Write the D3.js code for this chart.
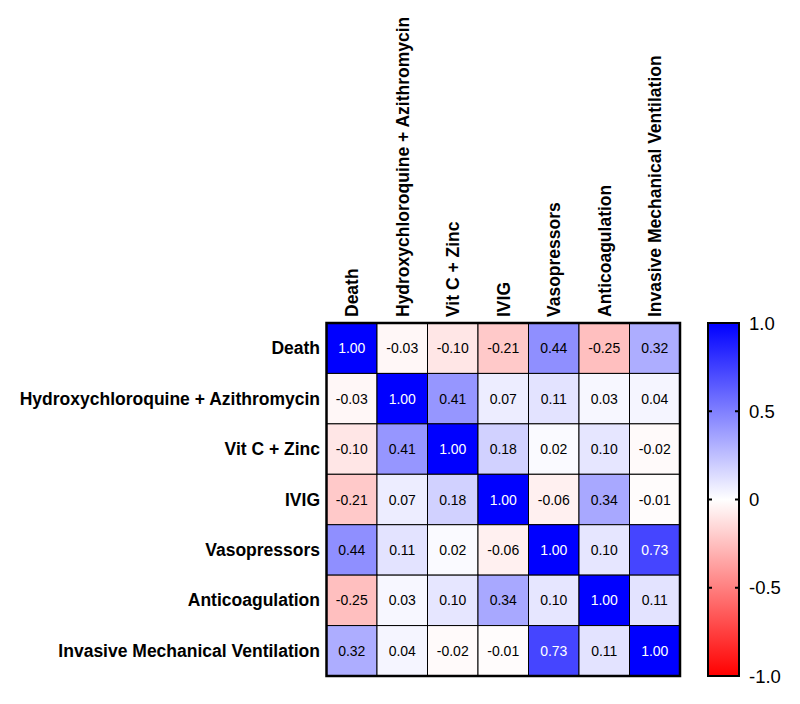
<!DOCTYPE html>
<html><head><meta charset="utf-8">
<script src="https://cdn.jsdelivr.net/npm/d3@7"></script>
<style>body{margin:0;background:#fff;} svg{display:block;font-family:"Liberation Sans",Arial,sans-serif;}</style>
</head><body>
<svg id="c" width="800" height="704"></svg>
<script>
const categories = ["Death","Hydroxychloroquine + Azithromycin","Vit C + Zinc","IVIG","Vasopressors","Anticoagulation","Invasive Mechanical Ventilation"];
const row0 = [1.00,-0.03,-0.10,-0.21,0.44,-0.25,0.32];
const row1 = [-0.03,1.00,0.41,0.07,0.11,0.03,0.04];
const row2 = [-0.10,0.41,1.00,0.18,0.02,0.10,-0.02];
const row3 = [-0.21,0.07,0.18,1.00,-0.06,0.34,-0.01];
const row4 = [0.44,0.11,0.02,-0.06,1.00,0.10,0.73];
const row5 = [-0.25,0.03,0.10,0.34,0.10,1.00,0.11];
const row6 = [0.32,0.04,-0.02,-0.01,0.73,0.11,1.00];
const matrix = [row0,row1,row2,row3,row4,row5,row6];
const colorTicks = [1.0,0.5,0,-0.5,-1.0];
const colorTickLabels = ["1.0","0.5","0","-0.5","-1.0"];

const svg = d3.select("#c");
const gx0 = 326.5, gy0 = 323, gx1 = 680, gy1 = 676;
const x = d3.scaleBand().domain(categories).range([gx0,gx1]);
const y = d3.scaleBand().domain(categories).range([gy0,gy1]);
const color = d3.scaleLinear().domain([-1,0,1]).range(["#ff0000","#ffffff","#0000ff"]);

const cells = [];
matrix.forEach((r,i)=>r.forEach((v,j)=>cells.push({r:categories[i],c:categories[j],v})));

svg.append("g").selectAll("rect").data(cells).join("rect")
  .attr("x",d=>x(d.c)).attr("y",d=>y(d.r))
  .attr("width",x.bandwidth()).attr("height",y.bandwidth())
  .attr("fill",d=>color(d.v)).attr("stroke","#000").attr("stroke-width",1);

svg.append("g").selectAll("text").data(cells).join("text")
  .attr("x",d=>x(d.c)+x.bandwidth()/2).attr("y",d=>y(d.r)+y.bandwidth()/2)
  .attr("text-anchor","middle").attr("dominant-baseline","central")
  .attr("font-size","14px")
  .attr("fill",d=>d.v>0.6?"#fff":"#000")
  .text(d=>d.v.toFixed(2));

svg.append("rect").attr("x",gx0).attr("y",gy0).attr("width",gx1-gx0).attr("height",gy1-gy0)
  .attr("fill","none").attr("stroke","#000").attr("stroke-width",2.5);

// row labels
svg.append("g").selectAll("text").data(categories).join("text")
  .attr("x",320).attr("y",d=>y(d)+y.bandwidth()/2)
  .attr("text-anchor","end").attr("dominant-baseline","central")
  .attr("font-size","17.5px").attr("font-weight","bold").text(d=>d);

// column labels
svg.append("g").selectAll("text").data(categories).join("text")
  .attr("transform",d=>`translate(${x(d)+x.bandwidth()/2+6.5},317) rotate(-90)`)
  .attr("text-anchor","start")
  .attr("font-size","17.5px").attr("font-weight","bold").text(d=>d);

// colorbar
const cbx = 708, cbw = 31, cby0 = 323, cby1 = 676;
const defs = svg.append("defs");
const grad = defs.append("linearGradient").attr("id","cb").attr("x1",0).attr("y1",1).attr("x2",0).attr("y2",0);
[-1,0,1].forEach(v=>grad.append("stop").attr("offset",(v+1)/2).attr("stop-color",color(v)));
svg.append("rect").attr("x",cbx).attr("y",cby0).attr("width",cbw).attr("height",cby1-cby0)
  .attr("fill","url(#cb)").attr("stroke","#000").attr("stroke-width",2);
const cy = d3.scaleLinear().domain([-1,1]).range([cby1,cby0]);
const tg = svg.append("g");
tg.selectAll("line.l").data(colorTicks).join("line").attr("class","l")
  .attr("x1",cbx).attr("x2",cbx+4).attr("y1",d=>cy(d)).attr("y2",d=>cy(d)).attr("stroke","#000").attr("stroke-width",2);
tg.selectAll("line.r").data(colorTicks).join("line").attr("class","r")
  .attr("x1",cbx+cbw-4).attr("x2",cbx+cbw).attr("y1",d=>cy(d)).attr("y2",d=>cy(d)).attr("stroke","#000").attr("stroke-width",2);
tg.selectAll("text").data(colorTicks).join("text")
  .attr("x",749).attr("y",d=>cy(d)).attr("dominant-baseline","central")
  .attr("font-size","18.5px").text((d,i)=>colorTickLabels[i]);
</script>
</body></html>
